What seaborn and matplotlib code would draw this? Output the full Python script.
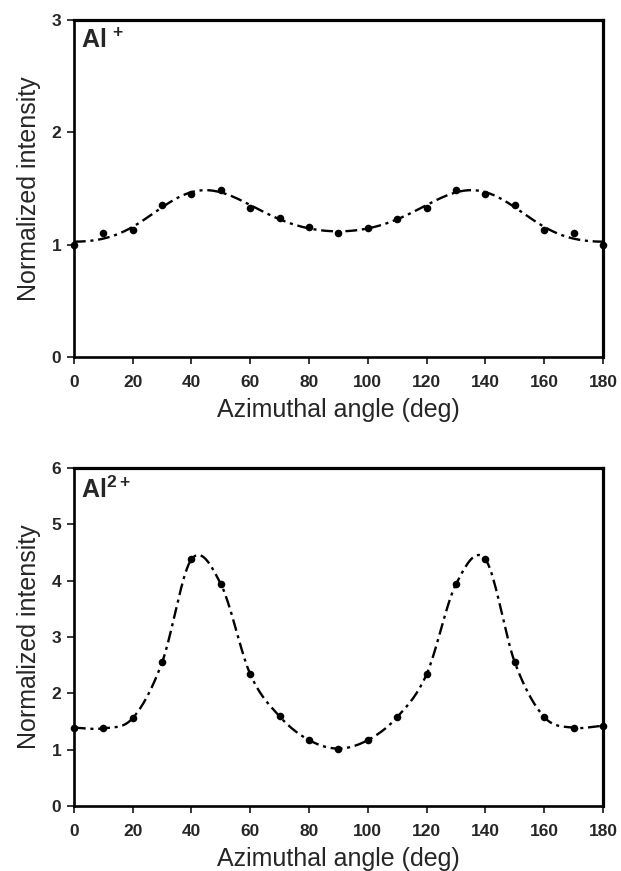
import numpy as np
import pandas as pd
import seaborn as sns
import matplotlib.pyplot as plt

# --- Data ---
angles = [0, 10, 20, 30, 40, 50, 60, 70, 80, 90,
          100, 110, 120, 130, 140, 150, 160, 170, 180]
al1_intensity = [1.00, 1.10, 1.13, 1.35, 1.45, 1.49, 1.33, 1.24, 1.16, 1.10,
                 1.15, 1.23, 1.33, 1.49, 1.45, 1.35, 1.13, 1.10, 1.00]
al2_intensity = [1.39, 1.38, 1.56, 2.55, 4.38, 3.94, 2.34, 1.59, 1.17, 1.02,
                 1.17, 1.58, 2.34, 3.94, 4.38, 2.55, 1.58, 1.39, 1.42]
x_ticks = [0, 20, 40, 60, 80, 100, 120, 140, 160, 180]


def fourier_fit(x, y, n_terms=5):
    """Smoothed curve: least-squares cosine series with 180 deg period."""
    x = np.asarray(x, float)
    xs = np.linspace(0, 180, 361)
    A = np.column_stack([np.cos(2 * np.pi * k * x / 180) for k in range(n_terms + 1)])
    coef, *_ = np.linalg.lstsq(A, np.asarray(y, float), rcond=None)
    B = np.column_stack([np.cos(2 * np.pi * k * xs / 180) for k in range(n_terms + 1)])
    return xs, B @ coef


def smooth_line(x, y, steps=20):
    """Catmull-Rom curve through the points (periodic ends)."""
    x = np.asarray(x, float)
    y = np.asarray(y, float)
    yp = np.concatenate([[y[-2]], y, [y[1]]])
    xs, ys = [], []
    t = np.linspace(0, 1, steps, endpoint=False)
    for i in range(len(x) - 1):
        p0, p1, p2, p3 = yp[i], yp[i + 1], yp[i + 2], yp[i + 3]
        m1 = (p2 - p0) / 2
        m2 = (p3 - p1) / 2
        h00 = 2 * t**3 - 3 * t**2 + 1
        h10 = t**3 - 2 * t**2 + t
        h01 = -2 * t**3 + 3 * t**2
        h11 = t**3 - t**2
        xs.append(x[i] + t * (x[i + 1] - x[i]))
        ys.append(h00 * p1 + h10 * m1 + h01 * p2 + h11 * m2)
    xs.append([x[-1]])
    ys.append([y[-1]])
    return np.concatenate(xs), np.concatenate(ys)


panels = [
    ("Al$^{\\,+}$", al1_intensity, [0, 1, 2, 3], fourier_fit),
    ("Al$^{2+}$", al2_intensity, [0, 1, 2, 3, 4, 5, 6], smooth_line),
]

sns.set_style("white")
plt.rcParams["font.family"] = ["Liberation Sans", "DejaVu Sans"]
plt.rcParams["mathtext.default"] = "regular"

fig = plt.figure(figsize=(6.21, 8.71), dpi=100)
positions = [[0.119, 0.5901, 0.852, 0.3869], [0.119, 0.0746, 0.852, 0.388]]

for pos, (label, values, y_ticks, curve) in zip(positions, panels):
    ax = fig.add_axes(pos)
    xs, ys = curve(angles, values)
    fit = pd.DataFrame({"angle": xs, "fit": ys})
    pts = pd.DataFrame({"angle": angles, "value": values})

    sns.lineplot(data=fit, x="angle", y="fit", ax=ax, color="black",
                 linewidth=1.7, dashes=False, sort=False)
    ax.lines[-1].set_dashes([5, 2, 1.3, 2])
    sns.scatterplot(data=pts, x="angle", y="value", ax=ax, color="black",
                    s=30, edgecolor="black", linewidth=0, zorder=3, clip_on=False)

    ax.set_xlim(0, 180)
    ax.set_ylim(y_ticks[0], y_ticks[-1])
    ax.set_xticks(x_ticks)
    ax.set_yticks(y_ticks)
    ax.tick_params(axis="both", direction="out", length=5, width=1.3,
                   labelsize=12.5, bottom=True, left=True, pad=4)
    ax.tick_params(axis="x", pad=8)
    for t in ax.get_xticklabels() + ax.get_yticklabels():
        t.set_fontweight("bold")
    for side in ["top", "right", "bottom", "left"]:
        ax.spines[side].set_visible(True)
        ax.spines[side].set_color("black")
    ax.spines["top"].set_linewidth(2.3)
    ax.spines["right"].set_linewidth(2.3)
    ax.spines["left"].set_linewidth(1.9)
    ax.spines["bottom"].set_linewidth(1.9)

    ax.set_xlabel("Azimuthal angle (deg)", fontsize=18, labelpad=6)
    ax.set_ylabel("Normalized intensity", fontsize=18, labelpad=8)
    ax.text(0.014, 0.975, label, transform=ax.transAxes, fontsize=18,
            fontweight="bold", va="top", ha="left")

fig.savefig("out.png", dpi=100, facecolor="white")
